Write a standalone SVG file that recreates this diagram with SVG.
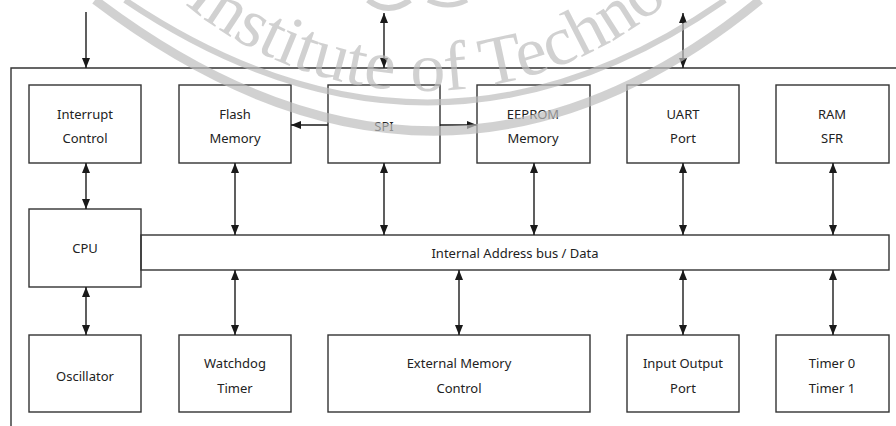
<svg xmlns="http://www.w3.org/2000/svg" width="896" height="426" viewBox="0 0 896 426">
  <defs>
    <marker id="ah" viewBox="0 0 10 8" refX="10" refY="4" markerWidth="10" markerHeight="8" markerUnits="userSpaceOnUse" orient="auto-start-reverse">
      <path d="M0,0 L10,4 L0,8 z" fill="#1a1a1a"/>
    </marker>
    <path id="wmArc" d="M55.7,-218.9 A375,375 0 0 0 794.3,-218.9"/>
  </defs>
  <style>
    .box { fill: none; stroke: #333; stroke-width: 1.4; }
    .frame { fill: none; stroke: #333; stroke-width: 1.4; }
    .lbl { font-family: "Noto Sans", "DejaVu Sans", sans-serif; font-size: 13px; fill: #222; text-anchor: middle; }
    .c { fill: none; stroke: #1a1a1a; stroke-width: 1.4; }
    .wm { fill: none; stroke: #bdbdbd; stroke-opacity: 0.7; }
    .wmt { font-family: "Liberation Serif", "DejaVu Serif", serif; font-size: 70px; fill: #bdbdbd; fill-opacity: 0.7; }
  </style>
  <rect width="896" height="426" fill="#ffffff"/>

  <!-- outer frame -->
  <path class="frame" d="M896,68 L11,68 L11,426"/>

  <g id="interrupt"><rect class="box" x="29" y="85" width="112" height="78"/>
    <text class="lbl" x="85" y="119">Interrupt</text><text class="lbl" x="85" y="143">Control</text></g>
  <g id="flash"><rect class="box" x="179" y="85" width="112" height="78"/>
    <text class="lbl" x="235" y="119">Flash</text><text class="lbl" x="235" y="143">Memory</text></g>
  <g id="spi"><rect class="box" x="328" y="85" width="112" height="78"/>
    <text class="lbl" x="384" y="131">SPI</text></g>
  <g id="eeprom"><rect class="box" x="477" y="85" width="113" height="78"/>
    <text class="lbl" x="533" y="119">EEPROM</text><text class="lbl" x="533" y="143">Memory</text></g>
  <g id="uart"><rect class="box" x="627" y="85" width="112" height="78"/>
    <text class="lbl" x="683" y="119">UART</text><text class="lbl" x="683" y="143">Port</text></g>
  <g id="ram"><rect class="box" x="776" y="85" width="113" height="78"/>
    <text class="lbl" x="832" y="119">RAM</text><text class="lbl" x="832" y="143">SFR</text></g>

  <g id="cpu"><rect class="box" x="29" y="209" width="112" height="78"/>
    <text class="lbl" x="85" y="253">CPU</text></g>
  <g id="bus"><rect class="box" x="141" y="235" width="748" height="35"/>
    <text class="lbl" x="515" y="258">Internal Address bus / Data</text></g>

  <g id="oscillator"><rect class="box" x="29" y="335" width="112" height="77"/>
    <text class="lbl" x="85" y="381">Oscillator</text></g>
  <g id="watchdog"><rect class="box" x="179" y="335" width="112" height="77"/>
    <text class="lbl" x="235" y="368">Watchdog</text><text class="lbl" x="235" y="393">Timer</text></g>
  <g id="extmem"><rect class="box" x="328" y="335" width="262" height="77"/>
    <text class="lbl" x="459" y="368">External Memory</text><text class="lbl" x="459" y="393">Control</text></g>
  <g id="io"><rect class="box" x="627" y="335" width="112" height="77"/>
    <text class="lbl" x="683" y="368">Input Output</text><text class="lbl" x="683" y="393">Port</text></g>
  <g id="timer"><rect class="box" x="776" y="335" width="113" height="77"/>
    <text class="lbl" x="832" y="368">Timer 0</text><text class="lbl" x="832" y="393">Timer 1</text></g>

  <g id="connectors">
    <line class="c" x1="86" y1="12" x2="86" y2="68" marker-end="url(#ah)"/>
    <line class="c" x1="384" y1="13" x2="384" y2="68" marker-start="url(#ah)" marker-end="url(#ah)"/>
    <line class="c" x1="683" y1="13" x2="683" y2="68" marker-start="url(#ah)" marker-end="url(#ah)"/>
    <line class="c" x1="328" y1="125" x2="291" y2="125" marker-end="url(#ah)"/>
    <line class="c" x1="440" y1="125" x2="477" y2="125" marker-end="url(#ah)"/>
    <line class="c" x1="86" y1="163" x2="86" y2="209" marker-start="url(#ah)" marker-end="url(#ah)"/>
    <line class="c" x1="235" y1="163" x2="235" y2="235" marker-start="url(#ah)" marker-end="url(#ah)"/>
    <line class="c" x1="384" y1="163" x2="384" y2="235" marker-start="url(#ah)" marker-end="url(#ah)"/>
    <line class="c" x1="534" y1="163" x2="534" y2="235" marker-start="url(#ah)" marker-end="url(#ah)"/>
    <line class="c" x1="683" y1="163" x2="683" y2="235" marker-start="url(#ah)" marker-end="url(#ah)"/>
    <line class="c" x1="833" y1="163" x2="833" y2="235" marker-start="url(#ah)" marker-end="url(#ah)"/>
    <line class="c" x1="86" y1="287" x2="86" y2="335" marker-start="url(#ah)" marker-end="url(#ah)"/>
    <line class="c" x1="235" y1="270" x2="235" y2="335" marker-start="url(#ah)" marker-end="url(#ah)"/>
    <line class="c" x1="459" y1="270" x2="459" y2="335" marker-start="url(#ah)" marker-end="url(#ah)"/>
    <line class="c" x1="683" y1="270" x2="683" y2="335" marker-start="url(#ah)" marker-end="url(#ah)"/>
    <line class="c" x1="833" y1="270" x2="833" y2="335" marker-start="url(#ah)" marker-end="url(#ah)"/>
  </g>

  <!-- watermark -->
  <g id="watermark">
    <path class="wm" stroke-width="9" d="M95,0 Q440,262 760,0"/>
    <path class="wm" stroke-width="6" d="M125,0 Q430,205 725,0"/>
    <path class="wm" stroke-width="6" d="M368,0 Q388,16 410,0"/>
    <path class="wm" stroke-width="5" d="M428,0 Q448,10 467,0"/>
    <text class="wmt"><textPath href="#wmArc" startOffset="262">Institute of Techno</textPath></text>
  </g>
</svg>
